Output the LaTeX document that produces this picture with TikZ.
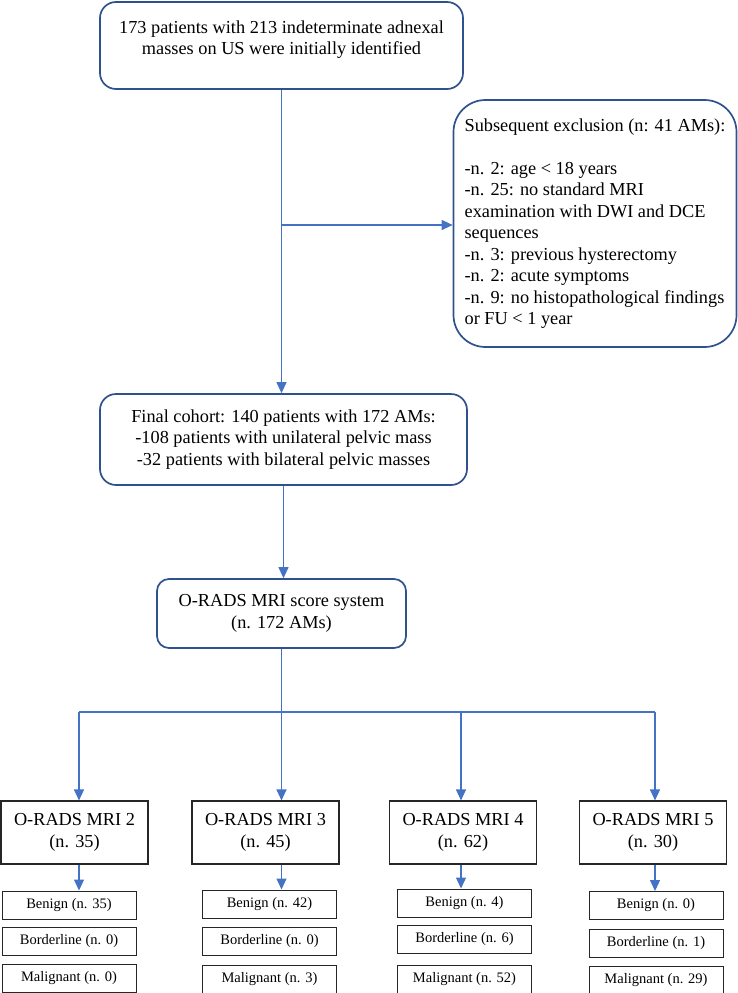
\documentclass[tikz,border=0pt]{standalone}
\usepackage{fontspec}
\setmainfont{Liberation Serif}
\usetikzlibrary{positioning,arrows.meta}

\definecolor{linkblue}{HTML}{4472C4}
\definecolor{frameblue}{HTML}{2F528F}

\begin{document}
\begin{tikzpicture}[%
		x=1pt,
		y=-1pt,
		>={Triangle[length=11pt,width=10pt]},
		link/.style={%
			draw=linkblue,
			line width=1.1pt
		},
		roundbox/.style={%
			draw=frameblue,
			line width=1.7pt,
			rounded corners=16pt,
			align=center,
			inner sep=0pt,
			font=\fontsize{18.3}{21.5}\selectfont
		},
		scorebox/.style={%
			draw=black!85,
			line width=1.1pt,
			align=center,
			inner sep=0pt,
			minimum width=147pt,
			minimum height=63pt,
			font=\fontsize{18.3}{21.5}\selectfont
		},
		resultbox/.style={%
			draw=black!85,
			line width=1pt,
			inner sep=0pt,
			minimum width=134pt,
			minimum height=28pt,
			font=\fontsize{14.5}{17}\selectfont
		}
		]
		\useasboundingbox (0,0) rectangle (738,993);

		\node[roundbox, minimum width=363pt, minimum height=87pt] (us) at (281.5,45.5)
			{\raisebox{6pt}[\height][\depth]{\begin{tabular}{@{}c@{}}173 patients with 213 indeterminate adnexal\\masses on US were initially identified\end{tabular}}};
		\node[roundbox, rounded corners=32pt, align=left, minimum width=283pt, minimum height=247pt] (excl) at (595,223.5)
			{Subsequent exclusion (n: 41 AMs):\\[21.5pt]
			-n. 2: age < 18 years\\
			-n. 25: no standard MRI\\
			examination with DWI and DCE\\
			sequences\\
			-n. 3: previous hysterectomy\\
			-n. 2: acute symptoms\\
			-n. 9: no histopathological findings\\
			or FU < 1 year};
		\node[roundbox, minimum width=367pt, minimum height=91pt] (cohort) at (283.5,439.5)
			{Final cohort: 140 patients with 172 AMs:\\-108 patients with unilateral pelvic mass\\-32 patients with bilateral pelvic masses};
		\node[roundbox, rounded corners=12pt, minimum width=249pt, minimum height=69pt] (score) at (281.5,613.5)
			{O-RADS MRI score system\\(n. 172 AMs)};

		\node[scorebox] (m2) at (74.5,832.5)  {O-RADS MRI 2\\(n. 35)};
		\node[scorebox] (m3) at (265.5,832.5) {O-RADS MRI 3\\(n. 45)};
		\node[scorebox] (m4) at (463,832.5)   {O-RADS MRI 4\\(n. 62)};
		\node[scorebox] (m5) at (653,832.5)   {O-RADS MRI 5\\(n. 30)};

		\node[resultbox] (ben2) at (69,905)                 {Benign (n. 35)};
		\node[resultbox] (bord2) [below=7pt of ben2]        {Borderline (n. 0)};
		\node[resultbox] (mal2) [below=8pt of bord2]        {Malignant (n. 0)};
		\node[resultbox] (ben3) at (269.5,904)              {Benign (n. 42)};
		\node[resultbox] (bord3) [below=8pt of ben3]        {Borderline (n. 0)};
		\node[resultbox] (mal3) [below=9pt of bord3]        {Malignant (n. 3)};
		\node[resultbox] (ben4) at (464.5,903)              {Benign (n. 4)};
		\node[resultbox] (bord4) [below=7pt of ben4]        {Borderline (n. 6)};
		\node[resultbox] (mal4) [below=11pt of bord4]       {Malignant (n. 52)};
		\node[resultbox] (ben5) at (656,905.5)              {Benign (n. 0)};
		\node[resultbox] (bord5) [below=9pt of ben5]        {Borderline (n. 1)};
		\node[resultbox] (mal5) [below=8pt of bord5]        {Malignant (n. 29)};

		% junctions
		\coordinate (split) at (281.5,225);
		\coordinate (j2) at (79,712);
		\coordinate (j4) at (461,712);
		\coordinate (j5) at (655,712);

		\draw[link] (us.south) -- (split);
		\draw[link,->] (split) -- (us.south |- cohort.north);
		\draw[link,->] (split) -- (split -| excl.west);
		\draw[link,->] (cohort.south) -- (cohort.south |- score.north);
		\draw[link,->] (score.south) -- (score.south |- m3.north);
		\draw[link] (j2) -- (j5);
		\draw[link,->] (j2) -- (j2 |- m2.north);
		\draw[link,->] (j4) -- (j4 |- m4.north);
		\draw[link,->] (j5) -- (j5 |- m5.north);

		\draw[link,->] (j2 |- m2.south) -- (j2 |- ben2.north);
		\draw[link,->] (score.south |- m3.south) -- (score.south |- ben3.north);
		\draw[link,->] (j4 |- m4.south) -- (j4 |- ben4.north);
		\draw[link,->] (j5 |- m5.south) -- (j5 |- ben5.north);
\end{tikzpicture}
\end{document}
